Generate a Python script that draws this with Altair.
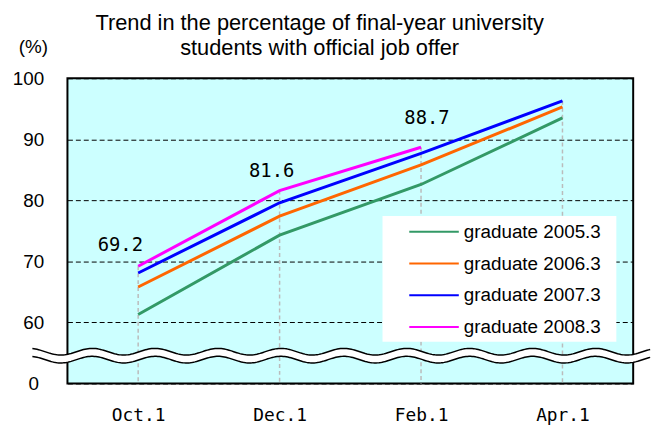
import altair as alt
import pandas as pd
import numpy as np

months = ["Oct.1", "Dec.1", "Feb.1", "Apr.1"]
series_names = ["graduate 2005.3", "graduate 2006.3", "graduate 2007.3", "graduate 2008.3"]
grad_2005 = [61.3, 74.3, 82.6, 93.5]
grad_2006 = [65.8, 77.4, 85.8, 95.3]
grad_2007 = [68.1, 79.6, 87.7, 96.3]
grad_2008 = [69.2, 81.6, 88.7, None]
series_colors = ["#339966", "#FF6600", "#0000FF", "#FF00FF"]
y_ticks = [50, 60, 70, 80, 90, 100]
title_lines = ["Trend in the percentage of final-year university",
               "students with official job offer"]

rows = []
for name, vals in zip(series_names, [grad_2005, grad_2006, grad_2007, grad_2008]):
    for i, (m, v) in enumerate(zip(months, vals)):
        if v is not None:
            rows.append({"month": m, "series": name, "value": v, "order": i})
df = pd.DataFrame(rows)
tops = df.groupby("month", sort=False)["value"].max().reset_index()
tops["base"] = 50

# axis-break decoration (wavy double line)
wave_u = np.linspace(-0.062, 1.03, 400)
phase = 2 * np.pi * (wave_u - 0.0438) / 0.1112
mid = 54.55 + 0.545 * np.cos(phase)
wave = pd.DataFrame({"u": wave_u, "hi": mid + 0.65, "lo": mid - 0.65})

x_enc = alt.X("month:N", scale=alt.Scale(domain=months, type="point", padding=0.5),
              axis=alt.Axis(title=None, labelFont="DejaVu Sans Mono", labelFontSize=18,
                            labelColor="black", labelPadding=23, ticks=False, tickSize=0,
                            domain=False, grid=False, labelAngle=0))
y_scale = alt.Scale(domain=[50, 100], nice=False, zero=False)
y_axis = alt.Axis(values=y_ticks, title="(%)", titleAngle=0, titleX=-35, titleY=-32,
                  titleAlign="center", titleBaseline="middle", titleFontSize=19,
                  titleFont="Liberation Sans", titleFontWeight="normal", titleColor="black",
                  labelFont="Liberation Sans", labelFontSize=19, labelColor="black",
                  labelPadding=24, ticks=False, tickSize=0, domain=False,
                  labelExpr="datum.value == 50 ? '0\u00a0\u200b' : datum.label",
                  grid=True, gridColor="black", gridDash=[5, 3], gridWidth=1)
y_enc = alt.Y("value:Q", scale=y_scale, axis=y_axis)

rules = alt.Chart(tops).mark_rule(color="#BBBBBB", strokeDash=[4, 3], strokeWidth=1.5).encode(
    x=x_enc, y=y_enc, y2="base:Q")

lines = alt.Chart(df).mark_line(strokeWidth=3).encode(
    x=x_enc, y=y_enc, order="order:Q",
    color=alt.Color("series:N", scale=alt.Scale(domain=series_names, range=series_colors),
                    legend=alt.Legend(title=None, orient="none", legendX=318, legendY=139,
                                      fillColor="white", padding=5, symbolOffset=36,
                                      symbolType="M-2.5,0L2.5,0", symbolSize=400,
                                      symbolStrokeWidth=2,
                                      labelFont="Liberation Sans", labelFontSize=19,
                                      labelColor="black", labelOffset=19, rowPadding=11,
                                      labelLimit=300,
                                      labelExpr="datum.label + '\u00a0\u00a0\u200b'")))

label_specs = [("Oct.1", -18, -21), ("Dec.1", -8, -20), ("Feb.1", 6, -29)]
labels = []
for m, dx, dy in label_specs:
    labels.append(
        alt.Chart(df).transform_filter(
            (alt.datum.series == series_names[3]) & (alt.datum.month == m)
        ).mark_text(dx=dx, dy=dy, font="DejaVu Sans Mono", fontSize=19, color="black",
                    align="center", baseline="middle").encode(
            x=x_enc, y=y_enc, text=alt.Text("value:Q", format=".1f")))

main = alt.layer(rules, lines, *labels)

wx = alt.X("u:Q", scale=alt.Scale(domain=[0, 1], nice=False, zero=False), axis=None)
wave_fill = alt.Chart(wave).mark_area(color="white", opacity=1).encode(
    x=wx, y=alt.Y("hi:Q", scale=y_scale, axis=y_axis), y2="lo:Q")
wave_hi = alt.Chart(wave).mark_line(color="black", strokeWidth=1.5).encode(
    x=wx, y=alt.Y("hi:Q", scale=y_scale, axis=y_axis))
wave_lo = alt.Chart(wave).mark_line(color="black", strokeWidth=1.5).encode(
    x=wx, y=alt.Y("lo:Q", scale=y_scale, axis=y_axis))
waves = alt.layer(wave_fill, wave_hi, wave_lo)

chart = alt.layer(main, waves).resolve_scale(x="independent").properties(
    width=571, height=308,
    autosize=alt.AutoSizeParams(type="none"),
    padding={"left": 60, "top": 69, "right": 20, "bottom": 40},
    title=alt.TitleParams(text=title_lines, fontSize=22, font="Liberation Sans",
                          fontWeight="normal", anchor="middle", dx=-31, lineHeight=26,
                          offset=-23, color="black"),
).configure_view(fill="#CCFFFF", stroke="black", strokeWidth=2)

chart.save("out.html", embed_options={"renderer": "svg", "actions": False})
